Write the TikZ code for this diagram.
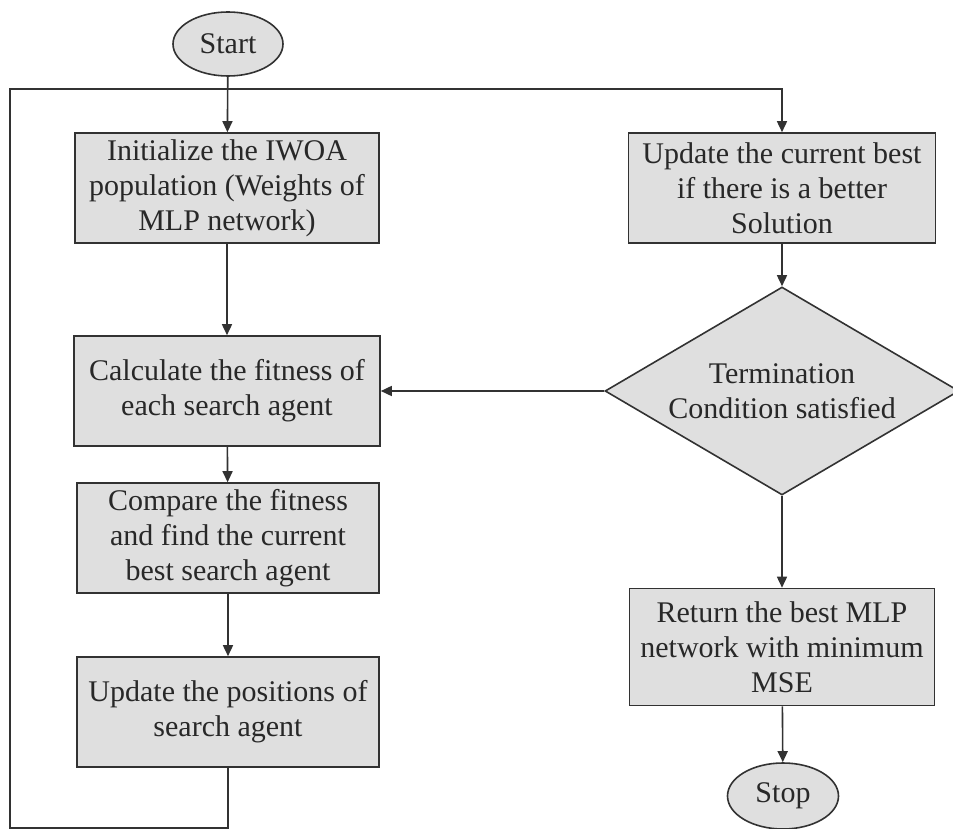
\documentclass[tikz,border=0pt]{standalone}
\usepackage{fontspec}
\setmainfont{Liberation Serif}
\usetikzlibrary{shapes.geometric,arrows.meta}
\definecolor{boxgray}{RGB}{223,223,223}
\definecolor{linegray}{RGB}{50,50,50}
\definecolor{textgray}{RGB}{40,40,40}

\begin{document}
\begin{tikzpicture}[x=1pt,y=-1pt,
  >={Triangle[length=11pt,width=10pt]},
  base/.style={draw=linegray,fill=boxgray,line width=1.6pt,text=textgray,
    align=center,inner sep=0pt,font=\fontsize{30}{35}\selectfont},
  procbox/.style={base,rectangle,minimum width=304pt,minimum height=110pt},
  termin/.style={base,ellipse,minimum width=110pt,minimum height=64pt},
  decide/.style={base,diamond,aspect=1.7,minimum width=354pt,minimum height=208pt},
  flow/.style={draw=linegray,line width=1.6pt}]
\useasboundingbox (0,0) rectangle (953,829);
\clip (0,0) rectangle (953,829);

\node[termin] (start) at (228,44) {Start};
\node[procbox] (init) at (227,188) {Initialize the IWOA\\population (Weights of\\MLP network)};
\node[procbox,minimum width=306pt] (calc) at (227,391) {Calculate the fitness of\\each search agent};
\node[procbox,minimum width=302pt] (comp) at (228,538) {Compare the fitness\\and find the current\\best search agent};
\node[procbox,minimum width=302pt] (upos) at (228,712) {Update the positions of\\search agent};
\node[procbox,minimum width=307pt] (ubest) at (782,188) {Update the current best\\if there is a better\\Solution};
\node[decide] (term) at (782,391) {Termination\\Condition satisfied};
\node[procbox,minimum width=305pt,minimum height=117pt] (ret) at (782,647) {Return the best MLP\\network with minimum\\MSE};
\node[termin,minimum width=111pt,minimum height=66pt] (stop) at (783,796) {Stop};

\coordinate (b) at (228,828);
\coordinate (bl) at (10,828);
\coordinate (tl) at (10,89);
\coordinate (tr) at (782,89);

\draw[flow,->] (start) -- (init);
\draw[flow,->] (init) -- (calc);
\draw[flow,->] (calc) -- (comp);
\draw[flow,->] (comp) -- (upos);
\draw[flow,->] (upos) -- (b) -- (bl) -- (tl) -- (tr) -- (ubest);
\draw[flow,->] (ubest) -- (term);
\draw[flow,->] (term) -- (calc);
\draw[flow,->] (term) -- (ret);
\draw[flow,->] (ret) -- (stop);

\end{tikzpicture}
\end{document}
